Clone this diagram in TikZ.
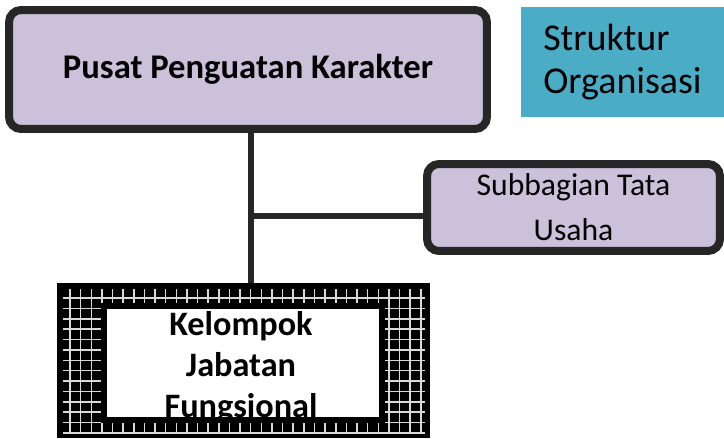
\documentclass[tikz,border=0pt]{standalone}
\usepackage{fontspec}
\setmainfont{Carlito}
\usepackage{xcolor}

\definecolor{boxfill}{HTML}{CCC1DA}
\definecolor{boxline}{HTML}{262626}
\definecolor{tealbox}{HTML}{4BACC6}

\begin{document}
\begin{tikzpicture}[
    x=0.02cm, y=-0.02cm,
    unit/.style = {rectangle, rounded corners=0.24cm, draw=boxline, fill=boxfill,
                  line width=0.16cm, align=center, inner sep=0pt},
    link/.style = {draw=boxline, line width=0.12cm},
    gridline/.style = {white!85!black, line width=0.03cm}
]
\useasboundingbox (0,0) rectangle (724,439);

% Title
\node[rectangle, fill=tealbox, minimum width=4.06cm, minimum height=2.2cm,
      align=left, inner sep=0pt, font=\fontsize{21.6}{24.5}\selectfont]
      (title) at (622.5,62) {Struktur\\Organisasi};

% Units
\node[unit, minimum width=9.56cm, minimum height=2.38cm,
      font=\fontsize{19.7}{23}\selectfont\bfseries]
      (pusat) at (248,69.5) {Pusat Penguatan Karakter};
\node[unit, minimum width=5.86cm, minimum height=1.74cm,
      font=\fontsize{18}{25.6}\selectfont]
      (subbag) at (573.5,207.5) {Subbagian Tata\\Usaha};

% Kelompok Jabatan Fungsional (grid frame)
\node[rectangle, fill=black, minimum width=7.46cm, minimum height=3.1cm,
      inner sep=0pt] (kjf) at (243.5,360.5) {};
\begin{scope}
\clip (63,289) rectangle (425,433.5);
\foreach \i in {0,...,33}
    \draw[gridline] ({70+10.63*\i},289) -- ({70+10.63*\i},434);
\foreach \j in {0,...,13}
    \draw[gridline] (63,{298+10.38*\j}) -- (425,{298+10.38*\j});
\end{scope}
\node[rectangle, fill=white, minimum width=5.57cm, minimum height=2.29cm,
      inner sep=0pt, outer sep=0pt] (kjfin) at (242.75,362.75) {};
\begin{scope}
\clip (106.5,308.5) rectangle (379,417);
\node[align=center, inner sep=0pt, font=\fontsize{19.5}{23.3}\selectfont\bfseries]
      (kjftext) at (241,367) {Kelompok\\Jabatan\\Fungsional};
\end{scope}
\draw[line width=0.12cm] (kjfin.north west) rectangle (kjfin.south east);

% Connectors
\coordinate (trunk) at (251,216);
\draw[link] (pusat.south -| trunk) -- (trunk |- kjf.north);
\draw[link] (trunk) -- (trunk -| subbag.west);

\end{tikzpicture}
\end{document}
